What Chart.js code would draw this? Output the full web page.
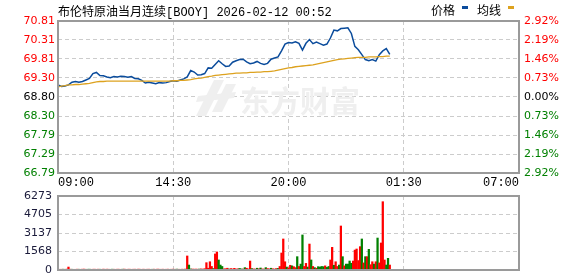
<!DOCTYPE html>
<html><head><meta charset="utf-8">
<script src="https://cdn.jsdelivr.net/npm/chart.js@4/dist/chart.umd.min.js"></script>
<style>
html,body{margin:0;padding:0;background:#fff;}
#wrap{position:relative;width:578px;height:276px;overflow:hidden;}
#c1{position:absolute;left:0;top:0;}
#c2{position:absolute;left:0;top:190px;}
</style></head><body>
<div id="wrap">
<canvas id="c1" width="578" height="190"></canvas>
<canvas id="c2" width="578" height="86"></canvas>
</div>
<script>
const titleText = "布伦特原油当月连续[BOOY] 2026-02-12 00:52";
const legendNames = ["价格", "均线"];
const watermarkText = "东方财富";
const timeLabels = ["09:00", "14:30", "20:00", "01:30", "07:00"];
const priceTickLabels = ["66.79", "67.29", "67.79", "68.30", "68.80", "69.30", "69.81", "70.31", "70.81"];
const pctTickLabels = ["2.92%", "2.19%", "1.46%", "0.73%", "0.00%", "0.73%", "1.46%", "2.19%", "2.92%"];
const volTickLabels = ["0", "1568", "3137", "4705", "6273"];
const priceMin = 66.79, priceMax = 70.81;
const volMax = 6273;
const sessionMinutes = 1320;
const priceStep = 10;
const volStep = 5;

const price = [
69.12,69.08,69.09,69.12,69.19,69.21,69.19,69.21,69.25,69.29,
69.42,69.45,69.37,69.36,69.33,69.31,69.34,69.33,69.35,69.34,
69.32,69.34,69.29,69.28,69.24,69.17,69.19,69.17,69.15,69.18,
69.17,69.18,69.21,69.23,69.22,69.25,69.28,69.33,69.50,69.46,
69.38,69.39,69.42,69.57,69.56,69.66,69.76,69.68,69.61,69.62,
69.72,69.76,69.79,69.80,69.73,69.68,69.70,69.74,69.69,69.66,
69.69,69.80,69.83,69.86,70.02,70.20,70.24,70.23,70.26,70.22,
70.04,70.22,70.32,70.21,70.25,70.21,70.17,70.20,70.36,70.57,
70.55,70.61,70.62,70.63,70.48,70.14,70.05,69.92,69.79,69.76,
69.79,69.75,69.92,70.02,70.08,69.93];

const avgPrice = [
69.07,69.09,69.10,69.12,69.12,69.13,69.13,69.14,69.15,69.16,
69.18,69.20,69.21,69.21,69.22,69.22,69.22,69.22,69.22,69.22,
69.22,69.22,69.22,69.22,69.22,69.22,69.22,69.22,69.22,69.22,
69.22,69.22,69.22,69.23,69.23,69.24,69.24,69.25,69.26,69.28,
69.29,69.30,69.32,69.34,69.35,69.37,69.38,69.39,69.40,69.41,
69.42,69.43,69.43,69.44,69.44,69.45,69.45,69.46,69.46,69.47,
69.47,69.48,69.49,69.51,69.53,69.55,69.57,69.58,69.60,69.61,
69.62,69.63,69.64,69.65,69.67,69.69,69.71,69.73,69.75,69.77,
69.79,69.80,69.81,69.82,69.83,69.84,69.85,69.85,69.85,69.86,
69.86,69.86,69.87,69.87,69.88,69.88];

const volume = [
70,60,65,70,60,75,250,70,65,60,
60,70,65,60,70,75,60,65,70,60,
65,70,60,70,65,60,75,60,70,65,
60,70,65,60,70,65,60,70,75,60,
65,70,60,65,70,60,75,65,60,70,
60,65,70,60,65,70,60,75,65,60,
70,60,65,70,60,65,70,60,75,65,
60,70,65,80,1190,420,90,80,70,75,
70,80,90,75,110,620,150,700,300,120,
1360,1530,850,420,300,90,110,150,80,120,
90,140,80,100,130,90,80,200,150,90,
760,120,90,80,150,100,170,90,80,200,
120,90,150,100,80,120,130,300,1440,2630,
700,250,180,400,350,280,200,1130,300,500,
2970,300,560,250,2200,850,300,200,150,280,
250,300,280,350,220,300,850,1920,400,700,
300,420,3730,1130,350,500,500,760,570,760,
1690,1780,800,1980,2630,600,1130,1130,1750,450,
700,500,700,2710,600,2290,5790,850,420,990,
420];

const volUp = [
1,1,1,0,1,1,1,1,0,1,
1,1,0,1,1,1,1,0,0,1,
1,1,1,1,0,1,1,1,1,1,
0,0,1,1,1,1,1,0,1,1,
1,1,1,1,1,0,1,1,1,1,
1,1,1,1,0,1,1,1,1,1,
1,1,1,1,1,1,1,1,0,1,
1,1,1,1,1,0,0,1,1,1,
1,0,1,1,1,1,1,1,1,0,
1,1,0,0,0,1,1,1,0,1,
1,1,1,1,0,0,1,0,1,1,
1,0,1,1,0,1,0,1,1,0,
1,1,0,1,1,1,0,1,1,1,
1,0,1,1,0,1,1,0,1,0,
0,1,1,0,1,0,1,0,1,0,
0,0,0,1,0,0,1,1,0,1,
1,0,1,0,1,0,0,0,0,1,
1,1,1,1,0,1,0,1,0,1,
1,0,1,0,1,1,1,1,0,0,
1];

const RED = '#ff0000', GREEN = '#008000', BLACK = '#000000';
const BLUE = '#0b4c9c', ORANGE = '#dda21f';
const GRID = '#cccccc';

function lblColor(i){ return i < 4 ? GREEN : (i === 4 ? BLACK : RED); }

const framePlugin = {
  id: 'frame',
  afterDraw(chart){
    const a = chart.chartArea, c = chart.ctx;
    c.save();
    c.strokeStyle = '#9a9a9a';
    c.lineWidth = 2;
    c.strokeRect(a.left, a.top, a.right - a.left, a.bottom - a.top);
    c.restore();
  }
};

const headerPlugin = {
  id: 'header',
  beforeDatasetsDraw(chart){
    const c = chart.ctx;
    c.save();
    c.fillStyle = '#efefef';
    c.beginPath();
    c.moveTo(214, 80); c.lineTo(224, 80); c.lineTo(206, 116); c.lineTo(196, 116); c.closePath(); c.fill();
    c.beginPath();
    c.moveTo(226, 84); c.lineTo(236, 84); c.lineTo(222, 112); c.lineTo(212, 112); c.closePath(); c.fill();
    c.beginPath();
    c.moveTo(198, 96); c.lineTo(236, 92); c.lineTo(234, 98); c.lineTo(196, 102); c.closePath(); c.fill();
    c.font = "bold 30px 'Noto Sans CJK SC'";
    c.textBaseline = 'alphabetic';
    c.fillText(watermarkText, 240, 112);
    c.restore();
  },
  afterDraw(chart){
    const c = chart.ctx;
    c.save();
    c.fillStyle = '#000';
    c.textBaseline = 'alphabetic';
    c.font = "12px 'Liberation Mono','Noto Sans CJK SC'";
    c.fillText(titleText, 58, 16);
    c.font = "12px 'Noto Sans CJK SC'";
    c.fillText(legendNames[0], 431, 15);
    c.fillStyle = BLUE; c.fillRect(462, 6, 6, 3);
    c.fillStyle = '#000';
    c.fillText(legendNames[1], 477, 15);
    c.fillStyle = ORANGE; c.fillRect(508, 6, 6, 3);
    c.restore();
  }
};

const evenTicks = (min, max, n) => Array.from({length: n}, (_, i) => ({value: min + i * (max - min) / (n - 1)}));

new Chart(document.getElementById('c1'), {
  type: 'line',
  data: {
    datasets: [
      { data: avgPrice.map((v, i) => ({x: i * priceStep, y: v})), borderColor: ORANGE, borderWidth: 1.3, pointRadius: 0, tension: 0, yAxisID: 'y' },
      { data: price.map((v, i) => ({x: i * priceStep, y: v})), borderColor: BLUE, borderWidth: 1.5, pointRadius: 0, tension: 0, yAxisID: 'y' }
    ]
  },
  options: {
    responsive: false, animation: false, devicePixelRatio: 1,
    layout: { padding: { top: 21, left: 0, right: 0, bottom: 0 } },
    plugins: { legend: { display: false }, tooltip: { enabled: false } },
    scales: {
      x: {
        type: 'linear', min: 0, max: sessionMinutes,
        afterBuildTicks: s => { s.ticks = evenTicks(0, sessionMinutes, timeLabels.length); },
        ticks: { align: 'inner', maxRotation: 0, autoSkip: false, padding: 3,
                 callback: (v, i) => timeLabels[i], color: BLACK,
                 font: { family: "'Liberation Mono'", size: 12 } },
        grid: { color: GRID, lineWidth: 1, drawTicks: false },
        border: { display: false, dash: [4, 3] },
        afterFit: s => { s.height = 17; }
      },
      y: {
        position: 'left', min: priceMin, max: priceMax,
        afterBuildTicks: s => { s.ticks = evenTicks(priceMin, priceMax, priceTickLabels.length); },
        ticks: { autoSkip: false, padding: 3, callback: (v, i) => priceTickLabels[i],
                 color: ctx => lblColor(ctx.index), font: { family: "'DejaVu Sans'", size: 11 } },
        grid: { color: GRID, lineWidth: 1, drawTicks: false },
        border: { display: false, dash: [4, 3] },
        afterFit: s => { s.width = 58; s.paddingTop = 0; s.paddingBottom = 0; }
      },
      yPct: {
        position: 'right', min: priceMin, max: priceMax,
        afterBuildTicks: s => { s.ticks = evenTicks(priceMin, priceMax, pctTickLabels.length); },
        ticks: { autoSkip: false, padding: 5, callback: (v, i) => pctTickLabels[i],
                 color: ctx => lblColor(ctx.index), font: { family: "'DejaVu Sans'", size: 11 } },
        grid: { display: false, drawTicks: false },
        border: { display: false },
        afterFit: s => { s.width = 59; s.paddingTop = 0; s.paddingBottom = 0; }
      }
    }
  },
  plugins: [headerPlugin, framePlugin]
});

new Chart(document.getElementById('c2'), {
  type: 'bar',
  data: {
    datasets: [{
      data: volume.map((v, i) => ({x: i * volStep, y: v})),
      backgroundColor: volUp.map(u => u ? RED : GREEN),
      barThickness: 1.6, grouped: false, borderWidth: 0
    }]
  },
  options: {
    responsive: false, animation: false, devicePixelRatio: 1,
    layout: { padding: { top: 6, left: 0, right: 59, bottom: 0 } },
    plugins: { legend: { display: false }, tooltip: { enabled: false } },
    scales: {
      x: {
        type: 'linear', min: 0, max: sessionMinutes, offset: false,
        afterBuildTicks: s => { s.ticks = evenTicks(0, sessionMinutes, timeLabels.length); },
        ticks: { display: false },
        grid: { color: GRID, lineWidth: 1, drawTicks: false, offset: false },
        border: { display: false, dash: [4, 3] },
        afterFit: s => { s.height = 6; }
      },
      y: {
        position: 'left', min: 0, max: volMax,
        afterBuildTicks: s => { s.ticks = evenTicks(0, volMax, volTickLabels.length); },
        ticks: { autoSkip: false, padding: 6, callback: (v, i) => volTickLabels[i],
                 color: '#1a1a3a', font: { family: "'DejaVu Sans'", size: 11 } },
        grid: { color: GRID, lineWidth: 1, drawTicks: false },
        border: { display: false, dash: [4, 3] },
        afterFit: s => { s.width = 58; s.paddingTop = 0; s.paddingBottom = 0; }
      }
    }
  },
  plugins: [framePlugin]
});
</script>
</body></html>
